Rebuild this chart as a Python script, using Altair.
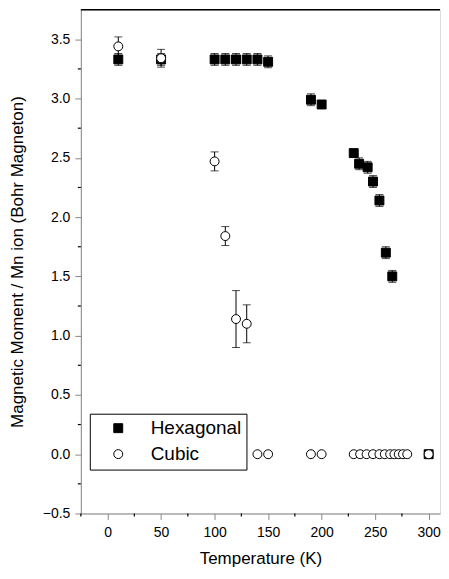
import altair as alt
import pandas as pd

# Hexagonal (filled squares)
hex_T = [10, 50, 100, 110, 120, 130, 140, 150, 190, 200, 230, 235, 243, 248, 254, 260, 266, 300]
hex_M = [3.33, 3.33, 3.33, 3.33, 3.33, 3.33, 3.33, 3.31, 2.99, 2.95, 2.54, 2.45, 2.42, 2.30, 2.14, 1.70, 1.50, 0.0]
hex_E = [0.05, 0.05, 0.05, 0.05, 0.05, 0.05, 0.05, 0.05, 0.05, 0.03, 0.03, 0.05, 0.05, 0.05, 0.05, 0.05, 0.05, 0.0]

# Cubic (open circles)
cub_T = [10, 50, 100, 110, 120, 130, 140, 150, 190, 200, 230, 236, 242, 248, 254, 259, 264, 268, 272, 276, 280, 300]
cub_M = [3.44, 3.34, 2.47, 1.84, 1.14, 1.10, 0, 0, 0, 0, 0, 0, 0, 0, 0, 0, 0, 0, 0, 0, 0, 0]
cub_E = [0.08, 0.075, 0.08, 0.08, 0.24, 0.16, 0, 0, 0, 0, 0, 0, 0, 0, 0, 0, 0, 0, 0, 0, 0, 0]

series = ["Hexagonal", "Cubic"]
x_major = [0, 50, 100, 150, 200, 250, 300]
x_minor = [-25, 25, 75, 125, 175, 225, 275]
y_major = [-0.5, 0.0, 0.5, 1.0, 1.5, 2.0, 2.5, 3.0, 3.5]
y_minor = [-0.25, 0.25, 0.75, 1.25, 1.75, 2.25, 2.75, 3.25]

rows = []
for t, m, e in zip(hex_T, hex_M, hex_E):
    rows.append({"T": t, "M": m, "E": e, "Series": "Hexagonal", "ord": 0})
for t, m, e in zip(cub_T, cub_M, cub_E):
    rows.append({"T": t, "M": m, "E": e, "Series": "Cubic", "ord": 1})
df = pd.DataFrame(rows)
df["lo"] = df["M"] - df["E"]
df["hi"] = df["M"] + df["E"]
err = df[df["E"] > 0]

W, H = 360, 505
FONT = "Liberation Sans"

xscale = alt.Scale(domain=[-25, 310.6], nice=False, zero=False)
yscale = alt.Scale(domain=[-0.5, 3.75], nice=False, zero=False)

xaxis = alt.Axis(
    values=x_major, format="d", title="Temperature (K)",
    tickSize=6, grid=False, labelOverlap=False,
    labelFontSize=14, titleFontSize=17, titleFontWeight="normal",
    labelPadding=6, titlePadding=11,
)
yaxis = alt.Axis(
    values=y_major, format=".1f", title="Magnetic Moment / Mn ion (Bohr Magneton)",
    tickSize=6, grid=False, labelOverlap=False,
    labelFontSize=14, titleFontSize=17, titleFontWeight="normal",
    labelPadding=5, titlePadding=16,
)

legend = alt.Legend(
    orient="none", legendX=9, legendY=405, title=None,
    strokeColor="black", fillColor="white",
    padding=5, labelFontSize=19, labelFont=FONT, labelColor="black",
    symbolSize=80, symbolStrokeWidth=1, labelOffset=23, rowPadding=6,
    symbolOffset=14,
)

rule = alt.Chart(err).mark_rule(color="black", strokeWidth=1).encode(
    x=alt.X("T:Q", scale=xscale, axis=xaxis),
    y=alt.Y("lo:Q", scale=yscale, axis=yaxis),
    y2="hi:Q",
)
cap_lo = alt.Chart(err).mark_tick(color="black", orient="horizontal", size=8, thickness=1).encode(
    x="T:Q", y="lo:Q"
)
cap_hi = alt.Chart(err).mark_tick(color="black", orient="horizontal", size=8, thickness=1).encode(
    x="T:Q", y="hi:Q"
)

points = alt.Chart(df).mark_point(size=80, strokeWidth=1, opacity=1).encode(
    x=alt.X("T:Q", scale=xscale, axis=xaxis),
    y=alt.Y("M:Q", scale=yscale, axis=yaxis),
    shape=alt.Shape("Series:N", scale=alt.Scale(domain=series, range=["square", "circle"]),
                    legend=legend),
    fill=alt.Fill("Series:N", scale=alt.Scale(domain=series, range=["black", "white"]), legend=legend),
    stroke=alt.Stroke("Series:N", scale=alt.Scale(domain=series, range=["black", "black"]), legend=legend),
    order=alt.Order("ord:Q"),
)

# minor ticks
xminor = alt.Chart(pd.DataFrame({"v": x_minor})).mark_rule(color="black", strokeWidth=1.2).encode(
    x="v:Q", y=alt.value(H), y2=alt.value(H + 3)
)
yminor = alt.Chart(pd.DataFrame({"v": y_minor})).mark_rule(color="black", strokeWidth=1.2).encode(
    y="v:Q", x=alt.value(0), x2=alt.value(-3)
)

frame_top = alt.Chart(pd.DataFrame({"a": [0]})).mark_rule(color="black", strokeWidth=1.5).encode(
    x=alt.value(0), x2=alt.value(W), y=alt.value(0)
)

chart = alt.layer(rule, cap_lo, cap_hi, points, xminor, yminor, frame_top).properties(
    width=W, height=H, padding=0
).configure_view(stroke=None).configure_axis(
    domainColor="black", domainWidth=1.5, tickColor="black", tickWidth=1.2,
    labelColor="black", titleColor="black", labelFont=FONT, titleFont=FONT,
).configure(background="white")

chart.save("out.html", embed_options={"renderer": "svg", "actions": False})
